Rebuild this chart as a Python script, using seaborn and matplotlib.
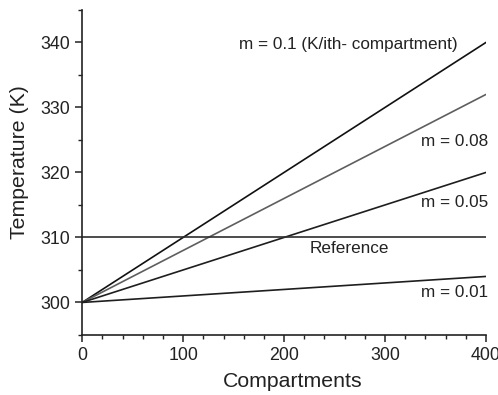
import pandas as pd
import matplotlib
matplotlib.use('Agg')
import matplotlib.pyplot as plt
import seaborn as sns

# Data
compartments = [0, 400]
series_names = ['m = 0.1', 'm = 0.08', 'm = 0.05', 'm = 0.01', 'Reference']
temp_m010 = [300, 340]
temp_m008 = [300, 332]
temp_m005 = [300, 320]
temp_m001 = [300, 304]
temp_ref = [310, 310]

rows = []
for name, vals in zip(series_names, [temp_m010, temp_m008, temp_m005, temp_m001, temp_ref]):
    for x, y in zip(compartments, vals):
        rows.append({'Compartments': x, 'Temperature': y, 'series': name})
df = pd.DataFrame(rows)

sns.set_style('ticks')
plt.rcParams['font.family'] = ['Liberation Sans', 'DejaVu Sans']

palette = {'m = 0.1': '#111111', 'm = 0.08': '#5e5e5e', 'm = 0.05': '#1e1e1e',
           'm = 0.01': '#1e1e1e', 'Reference': '#2e2e2e'}

fig = plt.figure(figsize=(4.98, 3.95), dpi=100)
ax = fig.add_axes([0.165, 0.152, 0.811, 0.823])

sns.lineplot(data=df, x='Compartments', y='Temperature', hue='series', palette=palette,
             linewidth=1.2, legend=False, ax=ax)

ax.set_xlim(0, 400)
ax.set_ylim(295, 345)
ax.set_xticks([0, 100, 200, 300, 400])
ax.set_xticks(range(0, 401, 20), minor=True)
ax.set_yticks([300, 310, 320, 330, 340])
ax.set_yticks(range(295, 346, 5), minor=True)
ax.tick_params(axis='both', which='major', labelsize=12.8, length=5, width=1.1, direction='out', colors='#222222')
ax.tick_params(axis='both', which='minor', length=3, width=1.0, direction='out', color='#222222')
ax.set_xlabel('Compartments', fontsize=15.3, color='#222222')
ax.set_ylabel('Temperature (K)', fontsize=15.3, color='#222222')
ax.xaxis.set_label_coords(0.521, -0.113)
ax.yaxis.set_label_coords(-0.132, 0.532)
sns.despine(ax=ax)
for s in ['left', 'bottom']:
    ax.spines[s].set_linewidth(1.2)
    ax.spines[s].set_color('#222222')

txt = dict(fontsize=12.3, color='#222222', va='center', clip_on=False)
ax.text(372, 339.7, 'm = 0.1 (K/ith- compartment)', ha='right', **txt)
ax.text(402, 324.7, 'm = 0.08', ha='right', **txt)
ax.text(402, 315.4, 'm = 0.05', ha='right', **txt)
ax.text(265, 308.3, 'Reference', ha='center', **txt)
ax.text(402, 301.6, 'm = 0.01', ha='right', **txt)

fig.savefig('out.png', dpi=100)
